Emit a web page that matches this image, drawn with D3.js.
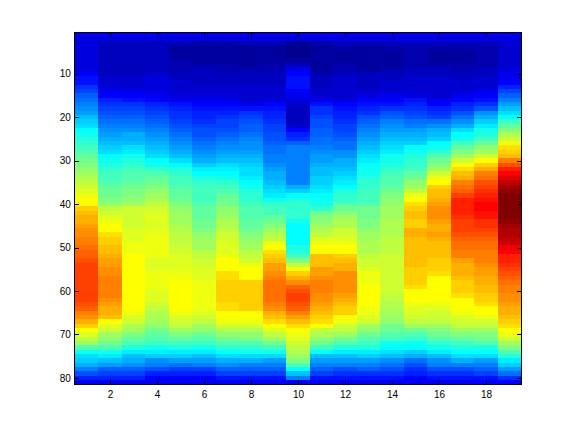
<!DOCTYPE html>
<html>
<head>
<meta charset="utf-8">
<script src="https://d3js.org/d3.v7.min.js"></script>
<style>
  html, body { margin: 0; padding: 0; background: #fff; }
  svg { display: block; }
  .tick text { font-family: "Liberation Sans", sans-serif; font-size: 10px; fill: #000; }
</style>
</head>
<body>
<svg id="chart" width="576" height="432"></svg>
<script>
// colormap index (0-63) of every cell, one array per column
const col01 = [6,5,5,5,5,5,5,5,5,7, 8,8,10,11,13,14,15,16,17,19, 20,21,23,24,25,26,27,28,29,30, 31,32,33,34,35,36,37,38,39,39, 42,43,44,44,45,46,46,47,47,48, 49,49,50,51,51,51,51,51,51,51, 51,51,50,49,47,46,44,42,39,37, 35,33,28,24,21,20,18,15,12,9,6];
const col02 = [6,5,3,3,3,3,3,3,3,3, 4,4,5,6,7,9,10,11,12,13, 14,15,16,17,18,19,20,21,23,24, 25,26,27,27,28,29,30,30,31,32, 35,36,37,38,39,39,41,42,42,43, 43,44,45,45,46,46,47,47,47,47, 47,46,45,44,44,43,39,37,36,33, 32,30,28,24,22,19,17,13,11,9,6];
const col03 = [6,5,3,3,3,3,3,3,3,3, 4,4,4,6,7,8,10,11,12,13, 14,15,16,18,18,19,21,22,24,25, 26,27,28,28,29,30,31,31,32,33, 36,36,36,36,36,37,37,37,38,38, 38,39,39,39,39,39,39,39,39,39, 39,39,39,39,38,37,36,34,33,31, 29,28,25,22,19,18,16,13,11,9,6];
const col04 = [6,5,3,3,3,3,3,3,3,4, 5,5,5,5,6,7,9,10,11,12, 13,14,15,16,17,18,19,20,21,23, 24,26,28,29,30,31,32,33,34,35, 36,37,37,37,37,37,38,38,38,38, 38,38,37,37,37,38,38,38,38,37, 37,37,36,35,34,34,33,32,30,29, 28,27,24,22,20,16,15,12,9,7,6];
const col05 = [6,5,3,1,1,1,2,2,2,3, 3,4,4,4,5,6,8,9,10,10, 11,12,13,14,15,16,17,18,19,21, 23,25,26,27,27,28,29,29,30,31, 32,33,33,33,34,34,35,35,35,36, 36,37,37,37,37,38,38,39,39,39, 39,39,39,39,38,37,36,35,33,31, 29,27,25,22,20,17,14,11,9,7,6];
const col06 = [6,5,2,1,1,1,1,2,3,3, 3,3,4,4,5,6,7,8,9,9, 10,11,12,12,13,14,15,16,17,18, 20,22,23,25,26,27,27,27,27,28, 29,29,29,30,30,31,32,33,33,33, 35,35,36,36,37,37,37,38,38,38, 38,38,38,38,37,36,35,33,32,30, 28,27,24,22,19,17,15,11,9,7,6];
const col07 = [6,5,2,1,1,1,1,2,2,3, 3,3,4,4,5,6,7,8,9,10, 11,11,12,13,14,15,16,17,18,19, 21,22,23,24,26,27,28,29,30,30, 32,32,33,34,34,35,36,36,37,37, 37,38,39,39,39,41,41,42,42,42, 42,42,41,41,39,39,38,36,34,32, 30,28,26,23,21,18,16,13,11,8,6];
const col08 = [6,5,3,1,1,1,1,1,2,3, 3,3,4,4,4,4,6,8,10,11, 12,13,13,14,15,16,16,17,18,19, 20,21,21,22,23,24,25,26,26,27, 28,28,28,29,29,30,31,32,33,33, 35,35,36,38,39,39,39,42,42,42, 42,42,42,42,39,39,38,36,34,32, 31,28,26,24,21,18,15,13,11,8,6];
const col09 = [6,5,3,1,1,1,1,2,2,3, 3,3,4,4,4,5,7,8,9,9, 10,11,11,12,12,13,14,14,15,15, 16,17,18,18,19,20,21,22,24,26, 27,27,29,30,31,33,34,35,38,39, 41,42,43,45,45,46,47,48,48,48, 48,48,47,46,44,43,41,39,37,35, 33,30,27,24,21,17,15,13,11,8,6];
const col10 = [6,5,1,0,0,0,1,3,6,7, 8,8,8,7,6,5,4,3,3,3, 3,4,7,9,10,13,15,15,15,15, 15,15,15,15,15,18,20,23,25,26, 26,26,26,24,23,23,23,23,23,25, 25,27,31,35,39,42,44,46,49,50, 51,51,50,49,47,45,43,41,39,38, 37,36,35,34,33,31,28,23,19,15,6];
const col11 = [6,5,2,1,1,1,1,1,1,2, 3,3,3,4,4,6,8,10,10,11, 12,12,13,13,14,14,15,16,17,17, 18,19,19,20,20,21,22,23,24,24, 26,30,31,32,33,34,35,37,38,39, 39,43,43,43,45,45,46,47,47,47, 46,46,45,44,43,42,41,39,35,34, 32,30,27,23,19,17,15,13,11,8,6];
const col12 = [6,5,3,2,1,1,1,2,2,3, 4,4,4,4,4,5,7,8,9,9, 10,11,11,12,13,14,14,16,16,18, 18,19,20,21,22,23,25,26,26,28, 30,31,33,34,34,36,36,37,38,39, 39,42,43,44,44,46,46,46,46,46, 45,44,43,42,42,39,38,36,35,33, 30,28,25,22,19,17,15,12,10,8,6];
const col13 = [6,5,3,1,1,1,1,1,1,3, 3,3,3,4,5,7,8,9,10,12, 13,14,15,16,17,18,19,20,21,22, 23,24,24,25,26,26,27,27,27,28, 30,30,30,31,31,32,33,33,34,34, 34,35,36,36,37,38,38,38,39,39, 39,39,39,38,38,37,36,33,32,30, 28,27,25,22,20,17,15,13,10,8,6];
const col14 = [6,5,3,2,1,1,1,1,2,3, 3,4,4,4,6,7,8,10,12,13, 15,16,17,18,19,20,21,22,24,24, 25,26,27,28,28,29,30,31,32,32, 33,33,33,34,34,34,34,35,35,35, 35,36,36,36,36,36,36,36,36,36, 35,35,34,34,33,33,32,30,30,28, 27,24,23,21,19,16,14,12,10,8,6];
const col15 = [6,5,3,2,2,2,2,2,3,3, 4,4,4,4,5,8,9,10,11,12, 14,15,17,18,19,20,23,24,25,26, 26,27,29,30,32,33,35,38,39,41, 42,43,43,42,42,44,44,43,43,43, 43,43,43,43,42,42,42,42,41,39, 39,39,38,37,37,36,35,33,30,28, 26,24,23,20,18,14,12,10,9,7,6];
const col16 = [6,5,3,2,1,1,1,2,3,3, 4,4,4,4,4,6,7,9,10,11, 14,16,18,19,20,23,24,26,28,30, 31,33,36,38,39,42,43,43,44,45, 46,46,46,45,44,44,45,44,43,43, 43,43,42,42,42,41,39,39,39,39, 39,39,38,37,36,36,35,33,31,30, 28,26,24,22,19,16,15,12,10,8,6];
const col17 = [6,5,3,2,1,1,1,2,2,3, 3,4,4,4,6,7,9,10,12,14, 16,18,21,23,24,27,29,31,33,36, 39,41,43,44,47,48,49,51,53,53, 53,53,52,51,51,51,50,49,48,48, 47,47,45,44,44,44,43,42,42,42, 41,39,39,39,38,37,36,35,33,31, 29,27,25,23,21,18,15,12,10,8,6];
const col18 = [6,5,3,2,2,2,2,2,3,3, 4,4,4,6,7,8,10,12,16,18, 20,22,24,25,27,29,32,33,36,39, 42,44,47,48,50,51,52,53,54,55, 55,54,54,52,52,51,50,49,48,48, 47,47,47,46,45,45,44,44,43,43, 42,42,41,39,39,38,36,35,33,31, 30,28,25,23,21,17,15,13,11,8,7];
const col19 = [6,5,4,4,4,4,4,4,5,6, 6,7,9,11,13,15,17,19,21,23, 27,29,31,34,36,38,41,42,43,47, 50,53,55,57,59,61,62,63,63,63, 63,63,63,62,61,60,60,59,58,56, 55,53,53,52,51,50,49,48,47,47, 46,46,45,44,44,43,42,41,39,38, 36,33,31,28,25,22,20,17,14,10,7];

const columns = [col01, col02, col03, col04, col05, col06, col07, col08, col09, col10,
  col11, col12, col13, col14, col15, col16, col17, col18, col19];
const xTicks = [2, 4, 6, 8, 10, 12, 14, 16, 18];
const yTicks = [10, 20, 30, 40, 50, 60, 70, 80];

const left = 74.88, right = 521.28, top_ = 32.4, bottom = 384.48;
const svg = d3.select('#chart');

const x = d3.scaleLinear().domain([0.5, 19.5]).range([left, right]);
const y = d3.scaleLinear().domain([0.5, 81.5]).range([top_, bottom]);

// matlab jet, 64 steps
const jet = d3.scaleLinear()
  .domain([0, 7, 23, 39, 55, 63])
  .range(['rgb(0,0,143)', 'rgb(0,0,255)', 'rgb(0,255,255)', 'rgb(255,255,0)', 'rgb(255,0,0)', 'rgb(128,0,0)']);

const cells = [];
columns.forEach((values, i) => {
  values.forEach((v, j) => {
    cells.push({ col: i + 1, row: j + 1, v });
  });
});

svg.append('g')
  .selectAll('rect')
  .data(cells)
  .join('rect')
  .attr('x', d => Math.round(x(d.col - 0.5)))
  .attr('y', d => Math.round(y(d.row - 0.5)))
  .attr('width', d => Math.round(x(d.col + 0.5)) - Math.round(x(d.col - 0.5)))
  .attr('height', d => Math.round(y(d.row + 0.5)) - Math.round(y(d.row - 0.5)))
  .attr('fill', d => jet(d.v))
  .attr('shape-rendering', 'crispEdges');

// box, ticks point inwards on all four sides
const tickLen = 4.5;
const axes = [
  [d3.axisBottom(x).tickValues(xTicks).tickFormat(d3.format('d')), `translate(0,${bottom})`, 6],
  [d3.axisTop(x).tickValues(xTicks).tickFormat(''), `translate(0,${top_})`, 6],
  [d3.axisLeft(y).tickValues(yTicks).tickFormat(d3.format('d')), `translate(${left},0)`, 4],
  [d3.axisRight(y).tickValues(yTicks).tickFormat(''), `translate(${right},0)`, 4],
];
axes.forEach(([axis, transform, pad]) => {
  const g = svg.append('g')
    .attr('transform', transform)
    .call(axis.tickSizeOuter(0).tickSizeInner(-tickLen).tickPadding(pad));
  g.select('.domain').remove();
  g.selectAll('line').attr('stroke', '#000').attr('shape-rendering', 'crispEdges');
});

svg.append('rect')
  .attr('x', left)
  .attr('y', top_)
  .attr('width', right - left)
  .attr('height', bottom - top_)
  .attr('fill', 'none')
  .attr('stroke', '#000')
  .attr('shape-rendering', 'crispEdges');
</script>
</body>
</html>
